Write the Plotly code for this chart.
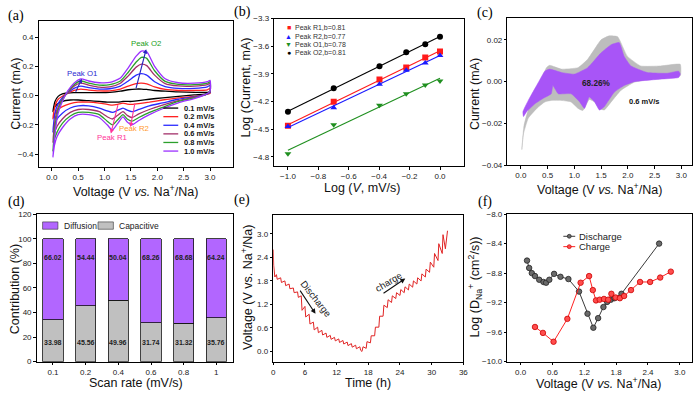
import plotly.graph_objects as go
import numpy as np

W, H = 700, 395
FONT = "Liberation Sans, Arial, sans-serif"
SERIF = "Liberation Serif, Times New Roman, serif"

# ---------------- (a) CV curves ----------------
rates_a = ["0.1 mV/s", "0.2 mV/s", "0.4 mV/s", "0.6 mV/s", "0.8 mV/s", "1.0 mV/s"]
colors_a = ["#000000", "#ff2222", "#2a2aff", "#a3306a", "#2ca02c", "#9b30ff"]
v_up = [0.02, 0.06, 0.12, 0.2, 0.3, 0.42, 0.55, 0.7, 0.9, 1.1, 1.3, 1.45, 1.6, 1.7, 1.8, 1.95, 2.15, 2.4, 2.7, 2.95, 3.0]
v_low = [3.0, 2.9, 2.7, 2.4, 2.1, 1.85, 1.65, 1.52, 1.43, 1.35, 1.25, 1.15, 1.05, 0.9, 0.7, 0.5, 0.35, 0.2, 0.1, 0.05, 0.02]
up_01 = [-0.11, -0.04, -0.005, 0.012, 0.018, 0.02, 0.021, 0.02, 0.02, 0.022, 0.03, 0.04, 0.045, 0.045, 0.042, 0.035, 0.03, 0.025, 0.022, 0.022, 0.025]
up_02 = [-0.16, -0.07, -0.025, -0.005, 0.015, 0.035, 0.045, 0.038, 0.032, 0.033, 0.045, 0.065, 0.082, 0.085, 0.08, 0.06, 0.042, 0.035, 0.035, 0.04, 0.05]
up_04 = [-0.25, -0.12, -0.055, -0.015, 0.018, 0.05, 0.065, 0.055, 0.045, 0.047, 0.065, 0.1, 0.14, 0.15, 0.14, 0.095, 0.062, 0.05, 0.05, 0.06, 0.07]
up_06 = [-0.32, -0.17, -0.08, -0.025, 0.02, 0.065, 0.085, 0.072, 0.058, 0.06, 0.085, 0.135, 0.195, 0.215, 0.205, 0.14, 0.082, 0.066, 0.065, 0.075, 0.085]
up_08 = [-0.38, -0.22, -0.1, -0.03, 0.025, 0.075, 0.1, 0.086, 0.072, 0.075, 0.1, 0.16, 0.23, 0.262, 0.255, 0.17, 0.097, 0.077, 0.075, 0.085, 0.095]
up_10 = [-0.42, -0.26, -0.12, -0.04, 0.03, 0.085, 0.115, 0.1, 0.088, 0.09, 0.12, 0.19, 0.27, 0.305, 0.3, 0.2, 0.115, 0.088, 0.085, 0.095, 0.105]
low_01 = [0.02, 0.01, 0.005, -0.005, -0.015, -0.025, -0.035, -0.04, -0.04, -0.04, -0.045, -0.045, -0.045, -0.04, -0.035, -0.03, -0.03, -0.04, -0.06, -0.08, -0.11]
low_02 = [0.015, 0.005, -0.005, -0.015, -0.03, -0.045, -0.055, -0.06, -0.058, -0.052, -0.06, -0.065, -0.06, -0.052, -0.045, -0.045, -0.055, -0.075, -0.1, -0.13, -0.16]
low_04 = [0.02, 0.005, -0.008, -0.025, -0.05, -0.07, -0.095, -0.11, -0.1, -0.085, -0.1, -0.115, -0.105, -0.085, -0.07, -0.07, -0.085, -0.12, -0.16, -0.2, -0.25]
low_06 = [0.025, 0.005, -0.01, -0.035, -0.065, -0.095, -0.125, -0.15, -0.135, -0.11, -0.135, -0.16, -0.145, -0.11, -0.095, -0.095, -0.115, -0.16, -0.21, -0.26, -0.32]
low_08 = [0.03, 0.005, -0.015, -0.04, -0.08, -0.115, -0.15, -0.175, -0.16, -0.13, -0.165, -0.2, -0.175, -0.13, -0.115, -0.115, -0.14, -0.19, -0.25, -0.3, -0.38]
low_10 = [0.03, 0.005, -0.02, -0.05, -0.09, -0.13, -0.17, -0.2, -0.18, -0.145, -0.19, -0.235, -0.2, -0.15, -0.13, -0.13, -0.16, -0.22, -0.28, -0.34, -0.42]
ups_a = [up_01, up_02, up_04, up_06, up_08, up_10]
lows_a = [low_01, low_02, low_04, low_06, low_08, low_10]

# ---------------- (b) log i vs log v ----------------
log_v = [-1.0, -0.699, -0.398, -0.222, -0.097, 0.0]
peak_names = ["Peak R1,b=0.81", "Peak R2,b=0.77", "Peak O1,b=0.78", "Peak O2,b=0.81"]
log_i_R1 = [-4.46, -4.20, -3.96, -3.83, -3.72, -3.655]
log_i_R2 = [-4.47, -4.265, -4.01, -3.86, -3.78, -3.70]
log_i_O1 = [-4.765, -4.45, -4.24, -4.115, -4.02, -3.975]
log_i_O2 = [-4.31, -4.055, -3.815, -3.665, -3.577, -3.495]
b_colors = ["#ff1a1a", "#1a1aff", "#1f8f1f", "#000000"]
b_symbols = ["square", "triangle-up", "triangle-down", "circle"]
b_glyphs = ["\u25A0", "\u25B2", "\u25BC", "\u25CF"]

# ---------------- (c) capacitive contribution at 0.6 mV/s ----------------
c_total_v = [0.02, 0.06, 0.14, 0.33, 0.48, 0.54, 0.76, 1.07, 1.25, 1.5, 1.65, 1.81, 1.99, 2.24, 2.61, 2.98,
             2.98, 2.61, 2.12, 1.87, 1.69, 1.56, 1.47, 1.38, 1.28, 1.16, 1.07, 0.94, 0.76, 0.57, 0.45, 0.30, 0.14, 0.05, 0.02]
c_total_i = [-0.0325, -0.021, -0.0135, -0.0019, 0.0067, 0.0078, 0.006, 0.0067, 0.0107, 0.020, 0.0219, 0.0215, 0.0122, 0.0075, 0.0075, 0.0083,
             0.0028, 0.002, -0.0003, -0.0042, -0.0097, -0.0136, -0.0128, -0.0097, -0.0085, -0.0138, -0.0128, -0.0097, -0.009, -0.009, -0.0097, -0.0128, -0.0175, -0.025, -0.0325]
c_cap_v = [0.04, 0.14, 0.33, 0.45, 0.54, 0.76, 1.0, 1.25, 1.5, 1.69, 1.84, 1.93, 2.06, 2.36, 2.73, 2.95, 2.98,
           2.95, 2.61, 2.12, 1.93, 1.75, 1.56, 1.47, 1.38, 1.28, 1.19, 1.1, 0.94, 0.7, 0.6, 0.57, 0.42, 0.27, 0.11, 0.05, 0.04]
c_cap_i = [-0.0144, -0.009, -0.0003, 0.005, 0.006, 0.0044, 0.0036, 0.0067, 0.0138, 0.0177, 0.0187, 0.0122, 0.0075, 0.0044, 0.004, 0.005, 0.0036,
           0.002, 0.0012, 0.0, -0.0019, -0.005, -0.012, -0.0136, -0.0097, -0.0073, -0.0128, -0.0097, -0.0058, -0.0058, -0.0019, -0.0058, -0.008, -0.0105, -0.0144, -0.0167, -0.0144]

# ---------------- (d) contribution bars ----------------
scan_rates = ["0.1", "0.2", "0.4", "0.6", "0.8", "1"]
capacitive = [33.98, 45.56, 49.96, 31.74, 31.32, 35.76]
diffusion = [66.02, 54.44, 50.04, 68.26, 68.68, 64.24]

# ---------------- (e) GITT profile ----------------
e_time = [0.0, 0.08, 0.3,
          0.6, 0.75, 1.4, 1.55, 2.2, 2.35, 3.0, 3.15, 3.8, 3.95, 4.6, 4.75, 5.3, 5.45, 6.0, 6.15, 6.8, 6.95,
          7.6, 7.75, 8.4, 8.55, 9.2, 9.35, 10.0, 10.15, 10.8, 10.95, 11.6, 11.75, 12.4, 12.55, 13.2, 13.35,
          14.0, 14.15, 14.8, 14.95, 15.6, 15.75, 16.4, 16.55, 16.8,
          17.0, 17.6, 17.75, 18.4, 18.55, 19.2, 19.35, 20.0, 20.15, 20.8, 20.95, 21.6, 21.75, 22.4, 22.55,
          23.2, 23.35, 24.0, 24.15, 24.8, 24.95, 25.6, 25.75, 26.4, 26.55, 27.2, 27.35, 28.0, 28.15,
          28.8, 28.95, 29.6, 29.75, 30.4, 30.55, 31.2, 31.35, 32.0, 32.15, 32.6, 33.0]
e_volt = [2.6, 2.2, 1.9,
          1.96, 1.84, 1.88, 1.76, 1.80, 1.68, 1.72, 1.60, 1.62, 1.50, 1.52, 1.38, 1.42, 1.05, 1.15, 0.88, 0.95, 0.70,
          0.75, 0.55, 0.62, 0.48, 0.54, 0.42, 0.47, 0.36, 0.41, 0.31, 0.36, 0.27, 0.32, 0.23, 0.28, 0.19,
          0.24, 0.15, 0.20, 0.11, 0.16, 0.07, 0.12, 0.03, 0.0,
          0.12, 0.08, 0.25, 0.22, 0.40, 0.40, 0.62, 0.62, 0.90, 0.90, 1.18, 1.12, 1.32, 1.25, 1.42,
          1.35, 1.50, 1.43, 1.58, 1.50, 1.65, 1.57, 1.72, 1.64, 1.80, 1.72, 1.88, 1.80, 1.98,
          1.90, 2.10, 2.02, 2.28, 2.15, 2.50, 2.32, 2.75, 2.50, 2.98, 2.62, 3.08]

# ---------------- (f) diffusion coefficients ----------------
dis_v = [0.12, 0.16, 0.21, 0.27, 0.35, 0.43, 0.48, 0.54, 0.63, 0.75, 0.90, 1.10, 1.26, 1.37, 1.46, 1.56, 1.63, 1.70, 1.77, 1.90, 2.61]
dis_logd = [-8.63, -8.73, -8.80, -8.84, -8.89, -8.92, -8.93, -8.89, -8.81, -8.85, -8.88, -9.05, -9.35, -9.54, -9.41, -9.26, -9.19, -9.16, -9.14, -9.08, -8.40]
chg_v = [0.27, 0.42, 0.62, 0.88, 1.13, 1.29, 1.36, 1.42, 1.49, 1.57, 1.65, 1.71, 1.79, 1.87, 1.95, 2.08, 2.25, 2.44, 2.63, 2.83]
chg_logd = [-9.53, -9.61, -9.73, -9.42, -8.93, -8.84, -9.03, -9.17, -9.16, -9.15, -9.16, -9.08, -9.13, -9.14, -9.11, -9.03, -8.92, -8.92, -8.86, -8.78]


def px(x):
    return x / W


def py(y):
    return 1 - y / H


def dom(x0, x1, y0, y1):
    return [x0 / W, x1 / W], [1 - y1 / H, 1 - y0 / H]


def axis(domain, anchor, rng=None, tickvals=None, fmt=None, **kw):
    d = dict(domain=domain, anchor=anchor, showline=True, linecolor="black", linewidth=1,
             mirror=True, ticks="outside", ticklen=2.5, tickwidth=1, tickcolor="black",
             showgrid=False, zeroline=False, tickfont=dict(size=8, color="#222", family=FONT))
    if rng is not None:
        d["range"] = rng
    if tickvals is not None:
        d["tickvals"] = tickvals
    if fmt is not None:
        d["tickformat"] = fmt
    d.update(kw)
    return d


fig = go.Figure()

# (a)
for name, col, up, low in zip(rates_a, colors_a, ups_a, lows_a):
    fig.add_trace(go.Scatter(x=v_up + v_low, y=up + low, mode="lines", name=name,
                             line=dict(color=col, width=1.3, shape="spline", smoothing=0.6),
                             xaxis="x", yaxis="y", showlegend=False))

# (b)
for name, col, sym, ys in zip(peak_names, b_colors, b_symbols, [log_i_R1, log_i_R2, log_i_O1, log_i_O2]):
    slope, icpt = np.polyfit(log_v, ys, 1)
    xf = np.array([min(log_v), max(log_v)])
    fig.add_trace(go.Scatter(x=xf, y=slope * xf + icpt, mode="lines", line=dict(color=col, width=1.1),
                             xaxis="x2", yaxis="y2", showlegend=False, hoverinfo="skip"))
    fig.add_trace(go.Scatter(x=log_v, y=ys, mode="markers", name=name,
                             marker=dict(color=col, symbol=sym, size=6),
                             xaxis="x2", yaxis="y2", showlegend=False))

# (c)
fig.add_trace(go.Scatter(x=c_total_v, y=c_total_i, fill="toself", fillcolor="#bdbdbd", mode="lines",
                         line=dict(color="#bdbdbd", width=0.5, shape="spline", smoothing=0.4),
                         xaxis="x3", yaxis="y3", showlegend=False))
fig.add_trace(go.Scatter(x=c_cap_v, y=c_cap_i, fill="toself", fillcolor="#a855f7", mode="lines",
                         line=dict(color="#a855f7", width=0.5, shape="spline", smoothing=0.4),
                         xaxis="x3", yaxis="y3", showlegend=False))

# (d)
fig.add_trace(go.Bar(x=scan_rates, y=capacitive, name="Capacitive",
                     marker=dict(color="#c0c0c0", line=dict(color="#111", width=0.8)),
                     width=0.62, xaxis="x4", yaxis="y4", showlegend=False))
fig.add_trace(go.Bar(x=scan_rates, y=diffusion, name="Diffusion",
                     marker=dict(color="#b266ff", line=dict(color="#111", width=0.8)),
                     width=0.62, xaxis="x4", yaxis="y4", showlegend=False))

# (e)
fig.add_trace(go.Scatter(x=e_time, y=e_volt, mode="lines", line=dict(color="#e02424", width=1),
                         xaxis="x5", yaxis="y5", showlegend=False))

# (f)
fig.add_trace(go.Scatter(x=dis_v, y=dis_logd, mode="lines+markers", name="Discharge",
                         line=dict(color="#3a3a3a", width=1),
                         marker=dict(symbol="circle", size=5.5, color="#6a6a6a", line=dict(color="#222", width=0.8)),
                         xaxis="x6", yaxis="y6", showlegend=False))
fig.add_trace(go.Scatter(x=chg_v, y=chg_logd, mode="lines+markers", name="Charge",
                         line=dict(color="#ff2222", width=1),
                         marker=dict(symbol="circle", size=5.5, color="#ff4d4d", line=dict(color="#cc0000", width=0.8)),
                         xaxis="x6", yaxis="y6", showlegend=False))

# axes layout
xa, ya = dom(37, 233, 17.5, 167)
xb, yb = dom(275, 467, 15, 166)
xc, yc = dom(510.5, 697, 14, 165)
xd, yd = dom(35, 233, 215, 366)
xe, ye = dom(274, 466, 216, 366)
xf_, yf = dom(510.5, 697, 215, 366)

fig.update_layout(
    width=W, height=H, margin=dict(l=0, r=0, t=0, b=0),
    paper_bgcolor="white", plot_bgcolor="white", barmode="stack",
    font=dict(family=FONT, color="#111"),
    xaxis=axis(xa, "y", [-0.25, 3.43], [0, 0.5, 1.0, 1.5, 2.0, 2.5, 3.0], ".1f"),
    yaxis=axis(ya, "x", [-0.49, 0.51], [-0.4, -0.2, 0.0, 0.2, 0.4], ".1f"),
    xaxis2=axis(xb, "y2", [-1.09, 0.16], [-1.0, -0.8, -0.6, -0.4, -0.2, 0.0], ".1f"),
    yaxis2=axis(yb, "x2", [-4.9, -3.3], [-4.8, -4.5, -4.2, -3.9, -3.6, -3.3], ".1f"),
    xaxis3=axis(xc, "y3", [-0.25, 3.2], [0, 0.5, 1.0, 1.5, 2.0, 2.5, 3.0], ".1f"),
    yaxis3=axis(yc, "x3", [-0.04, 0.0306], [-0.04, -0.02, 0.0, 0.02], ".2f"),
    xaxis4=axis(xd, "y4", [-0.5, 5.5], None, None, type="category"),
    yaxis4=axis(yd, "x4", [0, 120], [0, 20, 40, 60, 80, 100, 120], "d"),
    xaxis5=axis(xe, "y5", [0, 36], [0, 6, 12, 18, 24, 30, 36], "d"),
    yaxis5=axis(ye, "x5", [-0.26, 3.48], [0.0, 0.6, 1.2, 1.8, 2.4, 3.0], ".1f"),
    xaxis6=axis(xf_, "y6", [-0.25, 3.23], [0.0, 0.6, 1.2, 1.8, 2.4, 3.0], ".1f"),
    yaxis6=axis(yf, "x6", [-10.0, -8.0], [-10.0, -9.6, -9.2, -8.8, -8.4, -8.0], ".1f"),
)

ann = []
shapes = []


def text(x, y, s, size=12.5, color="#111", angle=0, xanchor="center", family=FONT, **kw):
    ann.append(dict(x=px(x), y=py(y), xref="paper", yref="paper", text=s, showarrow=False,
                    xanchor=xanchor, yanchor="middle", textangle=angle,
                    font=dict(size=size, color=color, family=family), **kw))


# panel labels
for lab, x, y in [("(a)", 14, 12), ("(b)", 243, 8), ("(c)", 488, 9), ("(d)", 15, 203), ("(e)", 242, 201), ("(f)", 488, 203)]:
    text(x, y, lab, size=14, color="black", family=SERIF)

# axis titles
vtitle = "Voltage (V <i>vs.</i> Na<sup>+</sup>/Na)"
text(135, 191.5, vtitle)
text(14, 92, "Current (mA)", angle=-90)
text(364, 188.5, "Log (<i>V</i>, mV/s)")
text(247, 86, "Log (Current, mA)", angle=-90)
text(604, 189.5, vtitle)
text(478, 92, "Current (mA)", angle=-90)
text(135, 387.5, "Scan rate (mV/s)")
text(13, 292, "Contribution (%)", angle=-90)
text(370, 387.5, "Time (h)")
text(248, 290, "Voltage (V vs. Na<sup>+</sup>/Na)", angle=-90)
text(603, 388, vtitle)
text(478, 290, "Log (D<sub>Na</sub><sup>+</sup> (cm<sup>2</sup>/s))", angle=-90)

# (a) legend
leg_y = [106.5, 115.3, 124.1, 132.9, 141.7, 150.5]
for name, col, yy in zip(rates_a, colors_a, leg_y):
    shapes.append(dict(type="line", xref="paper", yref="paper", x0=px(163), x1=px(178), y0=py(yy), y1=py(yy),
                       line=dict(color=col, width=1.3)))
    text(182, yy, f"<b>{name}</b>", size=7.5, xanchor="left")

# (a) peak arrows and labels
for (hx, hy, tx, ty, col) in [(0.57, 0.115, 0.44, 0.016, "#2525c0"), (1.79, 0.318, 1.59, 0.04, "#2525c0"),
                              (1.12, -0.26, 1.26, -0.055, "#ff3399"), (1.49, -0.215, 1.58, -0.045, "#ff3399")]:
    ann.append(dict(x=hx, y=hy, ax=tx, ay=ty, xref="x", yref="y", axref="x", ayref="y", text="",
                    showarrow=True, arrowhead=2, arrowsize=0.8, arrowwidth=1.1, arrowcolor=col, standoff=0))
for (s, x, y, col) in [("Peak O1", 0.57, 0.152, "#2b2bd0"), ("Peak O2", 1.78, 0.36, "#22a022"),
                       ("Peak R1", 1.15, -0.285, "#ff3399"), ("Peak R2", 1.55, -0.222, "#ff9a2e")]:
    ann.append(dict(x=x, y=y, xref="x", yref="y", text=s, showarrow=False,
                    font=dict(size=7.8, color=col, family=FONT)))

# (b) legend
for name, col, g, yy in zip(peak_names, b_colors, b_glyphs, [24.5, 33.0, 41.5, 50.0]):
    text(289.5, yy, g, size=7, color=col)
    text(293.5, yy, name, size=7, color="#333", xanchor="left")

# (c) texts
ann.append(dict(x=1.41, y=-0.0011, xref="x3", yref="y3", text="<b>68.26%</b>", showarrow=False,
                font=dict(size=8.2, color="#222", family=FONT)))
ann.append(dict(x=2.3, y=-0.0094, xref="x3", yref="y3", text="<b>0.6 mV/s</b>", showarrow=False,
                font=dict(size=7.5, color="#111", family=FONT)))

# (d) bar labels (placed by category index) + legend
for idx, (cv, dv) in enumerate(zip(capacitive, diffusion)):
    ann.append(dict(x=idx, y=84.5, xref="x4", yref="y4", text=f"<b>{dv:.2f}</b>", showarrow=False,
                    font=dict(size=7, color="#222", family=FONT)))
    ann.append(dict(x=idx, y=15.5, xref="x4", yref="y4", text=f"<b>{cv:.2f}</b>", showarrow=False,
                    font=dict(size=7, color="#222", family=FONT)))
shapes.append(dict(type="rect", xref="paper", yref="paper", x0=px(41), x1=px(56.5), y0=py(230.5), y1=py(223),
                   fillcolor="#b266ff", line=dict(color="#333", width=0.6)))
text(60.5, 226.8, "Diffusion", size=8.5, color="#222", xanchor="left")
shapes.append(dict(type="rect", xref="paper", yref="paper", x0=px(97), x1=px(112.5), y0=py(230.5), y1=py(223),
                   fillcolor="#c0c0c0", line=dict(color="#333", width=0.6)))
text(116.5, 226.8, "Capacitive", size=8.5, color="#222", xanchor="left")

# (e) arrows and labels
ann.append(dict(x=8.0, y=0.96, ax=4.9, ay=1.59, xref="x5", yref="y5", axref="x5", ayref="y5", text="",
                showarrow=True, arrowhead=2, arrowsize=0.9, arrowwidth=1.1, arrowcolor="#111", standoff=0))
ann.append(dict(x=25.0, y=1.86, ax=20.6, ay=1.46, xref="x5", yref="y5", axref="x5", ayref="y5", text="",
                showarrow=True, arrowhead=2, arrowsize=0.9, arrowwidth=1.1, arrowcolor="#111", standoff=0))
ann.append(dict(x=8.1, y=1.36, xref="x5", yref="y5", text="Discharge", showarrow=False, textangle=52,
                font=dict(size=9.5, color="#222", family=FONT)))
ann.append(dict(x=21.9, y=1.78, xref="x5", yref="y5", text="charge", showarrow=False, textangle=-31,
                font=dict(size=9.5, color="#222", family=FONT)))

# (f) legend
for name, lc, mc, oc, yy in [("Discharge", "#3a3a3a", "#6a6a6a", "#222", 237.7), ("Charge", "#ff2222", "#ff4d4d", "#cc0000", 248.3)]:
    shapes.append(dict(type="line", xref="paper", yref="paper", x0=px(567), x1=px(579), y0=py(yy), y1=py(yy),
                       line=dict(color=lc, width=1)))
    shapes.append(dict(type="circle", xref="paper", yref="paper", x0=px(571), x1=px(575), y0=py(yy + 2), y1=py(yy - 2),
                       fillcolor=mc, line=dict(color=oc, width=0.7)))
    text(581, yy, name, size=9.5, color="#222", xanchor="left")

fig.update_layout(annotations=ann, shapes=shapes)
fig.write_html("out.html", config={"displayModeBar": False},
               post_script="document.body.style.margin='0';document.body.style.overflow='hidden';")
